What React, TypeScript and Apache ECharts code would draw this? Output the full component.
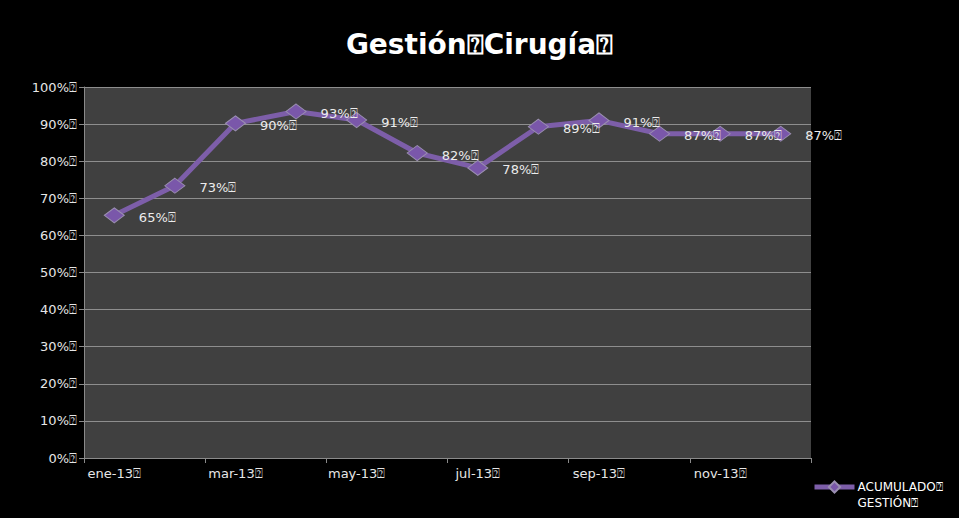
import React, { useEffect, useRef } from "react";
import * as echarts from "echarts";

const BOX = "\u2370";
const categories = ["ene-13", "feb-13", "mar-13", "abr-13", "may-13", "jun-13", "jul-13", "ago-13", "sep-13", "oct-13", "nov-13", "dic-13"];
const values = [65.4, 73.4, 90.2, 93.4, 91.1, 82.2, 78.2, 89.3, 91.0, 87.4, 87.4, 87.4];
const seriesName = "ACUMULADO" + BOX + "\nGESTIÓN" + BOX;
const title = "Gestión" + BOX + "Cirugía" + BOX;

export default function App() {
  const ref = useRef<HTMLDivElement>(null);
  useEffect(() => {
    const chart = echarts.init(ref.current!, null, { renderer: "svg" });
    chart.setOption({
      animation: false,
      backgroundColor: "#000000",
      title: {
        text: title,
        left: "center",
        top: 25,
        textStyle: { color: "#ffffff", fontSize: 28, fontWeight: "bold", fontFamily: "DejaVu Sans" },
      },
      legend: {
        left: 812,
        top: 463,
        padding: 0,
        orient: "vertical",
        itemWidth: 40,
        itemHeight: 14,
        itemGap: 2,
        lineStyle: { width: 5 },
        formatter: (n: string) => " \n" + n,
        textStyle: { color: "#ffffff", fontSize: 12, fontFamily: "DejaVu Sans", lineHeight: 16, padding: [0, 0, 0, -2] },
        data: [seriesName],
      },
      grid: { left: 84, right: 148, top: 87, bottom: 60, show: true, backgroundColor: "#404040", borderWidth: 0 },
      xAxis: {
        type: "category",
        data: categories,
        boundaryGap: true,
        axisLine: { lineStyle: { color: "#8a8a8a", width: 1 } },
        axisTick: { show: true, interval: 1, length: 5, lineStyle: { color: "#8a8a8a" } },
        axisLabel: {
          interval: 1,
          color: "#e6e6e6",
          fontSize: 13,
          fontFamily: "DejaVu Sans",
          margin: 9,
          formatter: (v: string) => v + BOX,
        },
      },
      yAxis: {
        type: "value",
        min: 0,
        max: 100,
        interval: 10,
        axisLine: { show: true, lineStyle: { color: "#8a8a8a", width: 1 } },
        axisTick: { show: true, length: 5, lineStyle: { color: "#8a8a8a" } },
        splitLine: { lineStyle: { color: "#8e8e8e", width: 1 } },
        axisLabel: {
          color: "#e6e6e6",
          fontSize: 13,
          fontFamily: "DejaVu Sans",
          margin: 7,
          formatter: (v: number) => v + "%" + BOX,
        },
      },
      series: [
        {
          name: seriesName,
          type: "line",
          data: values,
          symbol: "diamond",
          symbolSize: [20, 15],
          lineStyle: { color: "#7d5ea9", width: 5 },
          itemStyle: { color: "#7a57aa", borderColor: "#9a8fb0", borderWidth: 1 },
          label: {
            show: true,
            position: "right",
            distance: 14,
            offset: [0, 2],
            color: "#ececec",
            fontSize: 13,
            fontFamily: "DejaVu Sans",
            formatter: (p: any) => Math.round(p.value) + "%" + BOX,
          },
        },
      ],
    });
    return () => chart.dispose();
  }, []);
  return <div ref={ref} style={{ width: 959, height: 518, position: "absolute", left: 0, top: 0 }} />;
}
